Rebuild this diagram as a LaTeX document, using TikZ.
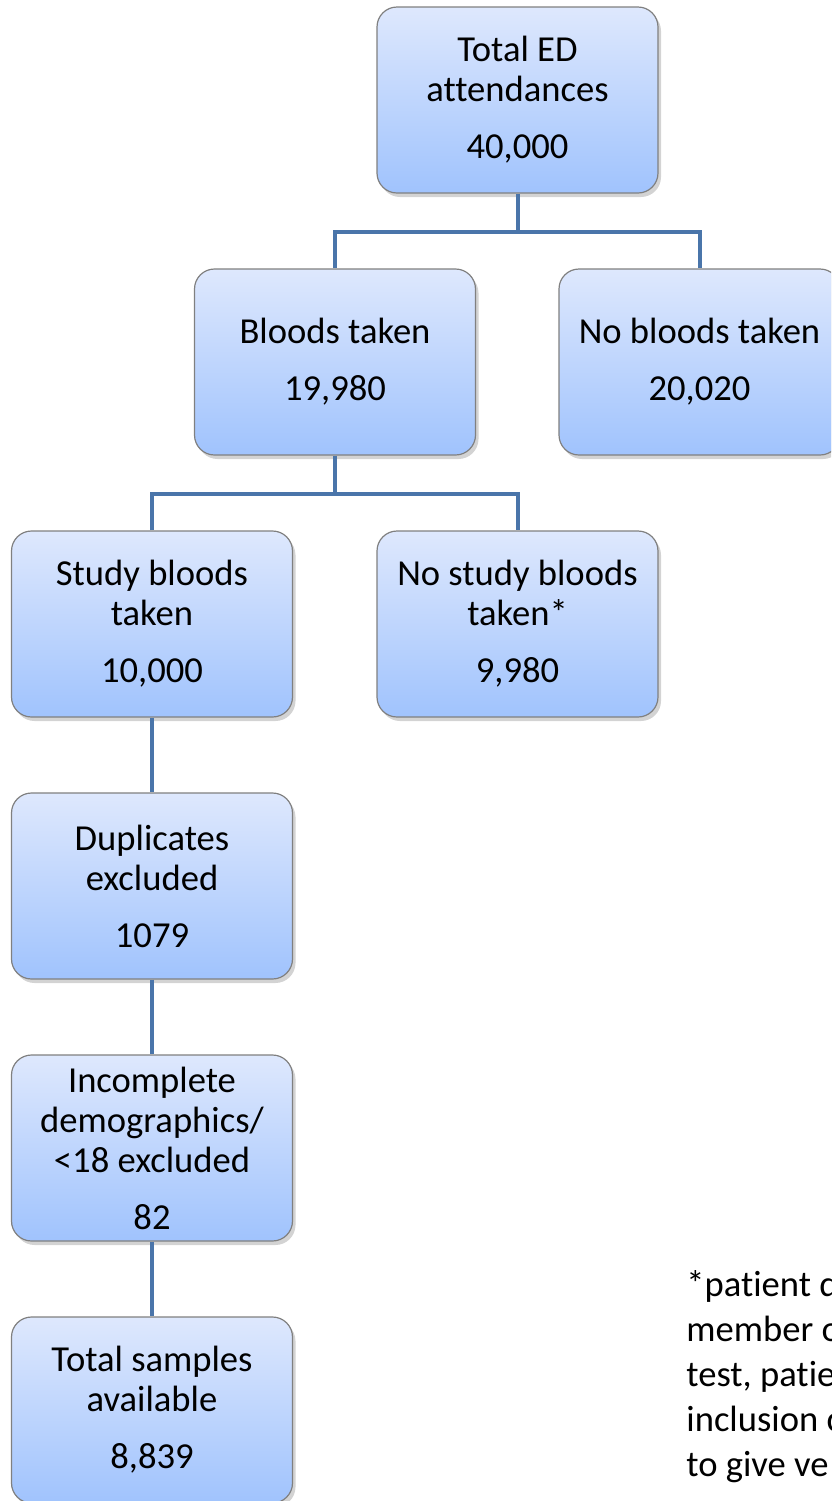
\documentclass[tikz,border=0pt]{standalone}
\usepackage{fontspec}
\setmainfont{Carlito}[Ligatures=NoCommon]
\usepackage{tikz}
\usetikzlibrary{shadows}

\definecolor{boxtop}{RGB}{222,232,253}
\definecolor{boxbottom}{RGB}{160,195,253}
\definecolor{boxrim}{RGB}{128,128,128}
\definecolor{linkblue}{RGB}{74,117,170}

\tikzset{
    flowbox/.style={draw=boxrim, line width=.6pt, rounded corners=10pt,
        top color=boxtop, bottom color=boxbottom,
        minimum width=140.5pt, minimum height=93pt, inner sep=0pt,
        align=center, font=\fontsize{18.3}{20}\selectfont,
        drop shadow={shadow xshift=1.5pt, shadow yshift=-2pt, opacity=.35}},
    link/.style={draw=linkblue, line width=2pt}
}

\begin{document}
\begin{tikzpicture}[x=.5pt, y=-.5pt]
    % fix the page to the size of the reference
    \useasboundingbox (0, 0) rectangle (831, 1501);
    \clip (0, 0) rectangle (831, 1501);

    % draw boxes
    \node[flowbox] (total) at (517.5, 100) {Total ED\\attendances\\[8.5pt]40,000};
    \node[flowbox] (bloods) at (335, 362) {Bloods taken\\[8.5pt]19,980};
    \node[flowbox] (nobloods) at (699.5, 362) {No bloods taken\\[8.5pt]20,020};
    \node[flowbox] (study) at (152, 624) {Study bloods\\taken\\[8.5pt]10,000};
    \node[flowbox] (nostudy) at (517.5, 624) {No study bloods\\taken*\\[8.5pt]9,980};
    \node[flowbox] (dupl) at (152, 886) {Duplicates\\excluded\\[8.5pt]1079};
    \node[flowbox] (incompl) at (152, 1148) {Incomplete\\demographics/\\<18 excluded\\[8.5pt]82};
    \node[flowbox] (samples) at (152, 1410) {Total samples\\available\\[8.5pt]8,839};

    % draw connectors
    \draw[link] (total.south) -- ++(0, 38) coordinate (split1);
    \draw[link] (bloods.north) |- (split1) -| (nobloods.north);
    \draw[link] (bloods.south) -- ++(0, 38) coordinate (split2);
    \draw[link] (study.north) |- (split2) -| (nostudy.north);
    \draw[link] (study.south) -- (dupl.north);
    \draw[link] (dupl.south) -- (incompl.north);
    \draw[link] (incompl.south) -- (samples.north);

    % footnote
    \node[anchor=north west, align=left, inner sep=0pt,
        font=\fontsize{18.3}{22.5}\selectfont] (note) at (686, 1270)
        {*patient d\\member o\\test, patie\\inclusion c\\to give ve};
\end{tikzpicture}
\end{document}
